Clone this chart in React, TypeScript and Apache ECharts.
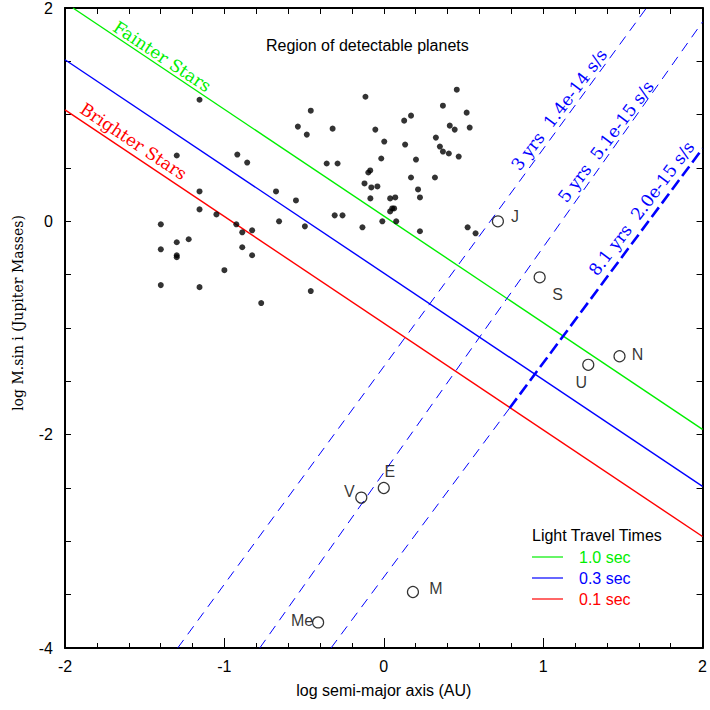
import React, { useEffect, useRef } from 'react';
import * as echarts from 'echarts';

// Known exoplanets: log semi-major axis (AU) and log M sin i (Jupiter masses)
const exoLogA = [
  -1.156, -0.115, -0.458, -0.539, -0.483, -0.321, -0.053, -1.299, -0.919, -0.857,
  -0.358, -0.29, -0.097, -0.085, -0.121, -0.078, -0.04, -0.084, -1.156, -0.676,
  -0.551, -1.156, -1.05, -0.308, -0.259, -0.925, -0.657, -0.495, -0.134, -1.399,
  -0.888, -0.826, -1.224, -1.299, -1.399, -1.299, -1.299, -0.888, -0.826, -1.0,
  -1.399, -1.156, -0.458, -0.769,
  0.458, 0.371, 0.52, 0.128, 0.171, 0.414, 0.445, 0.539, 0.003, 0.134,
  0.327, 0.352, 0.371, 0.408, 0.47, -0.016, 0.202, 0.171, 0.321, 0.215,
  0.04, 0.072, 0.227, 0.053, 0.065, 0.04, -0.009, 0.078, 0.227, 0.526, 0.576,
];
const exoLogM = [
  1.14, 1.168, 1.037, 0.888, 0.813, 0.869, 0.86, 0.617, 0.626, 0.551,
  0.542, 0.542, 0.458, 0.477, 0.355, 0.318, 0.327, 0.215, 0.28, 0.28,
  0.196, 0.112, 0.065, 0.056, 0.056, -0.028, 0.0, -0.047, -0.056, -0.028,
  -0.103, -0.084, -0.168, -0.196, -0.262, -0.318, -0.336, -0.243, -0.318, -0.458,
  -0.598, -0.617, -0.654, -0.766,
  1.234, 1.084, 1.019, 0.944, 0.991, 0.897, 0.86, 0.879, 0.748, 0.72,
  0.785, 0.701, 0.654, 0.636, 0.607, 0.589, 0.579, 0.411, 0.411, 0.299,
  0.215, 0.224, 0.224, 0.121, 0.121, 0.093, 0.0, 0.0, -0.093, -0.056, -0.112,
];

// Solar system planets
const planetNames = ['J', 'S', 'U', 'N', 'E', 'V', 'M', 'Me'];
const planetLogA = [0.716, 0.978, 1.283, 1.479, 0.0, -0.141, 0.183, -0.412];
const planetLogM = [0.0, -0.525, -1.345, -1.265, -2.5, -2.59, -3.475, -3.76];

// Light travel time lines (endpoints in data units)
const lightTimeNames = ['1.0 sec', '0.3 sec', '0.1 sec'];
const lightTimeLines: number[][][] = [
  [[-1.95, 2], [2, -1.95]],
  [[-2, 1.515], [2, -2.485]],
  [[-2, 1.045], [2, -2.955]],
];

// Timing (period derivative) lines
const timingNames = ['3 yrs  1.4e-14 s/s', '5 yrs  5.1e-15 s/s', '8.1 yrs  2.0e-15 s/s'];
const timingLines: number[][][] = [
  [[-1.293, -4], [1.648, 2]],
  [[-0.778, -4], [2, 1.87]],
  [[-0.331, -4], [0.79, -1.75]],
];
const timingThick: number[][] = [[0.79, -1.75], [2, 0.682]];

// Text anchors (data units)
const regionLabel = 'Region of detectable planets';
const regionAnchor = [-0.103, 1.645];
const starLabels = ['Fainter Stars', 'Brighter Stars'];
const starAnchors = [[-1.39, 1.545], [-1.57, 0.75]];
const timingAnchors = [[1.1, 1.047], [1.393, 0.748], [1.617, 0.121]];

const lightColors = ['#00ee00', '#0000ff', '#ff0000'];
const planetLabelOffsets: Record<string, number[]> = {
  J: [17, -5], S: [18, 17], U: [-7, 18], N: [18, -2],
  E: [6, -17], V: [-12, -6], M: [23, -4], Me: [-16, -2],
};

const SANS = 'Liberation Sans, Arial, Helvetica, sans-serif';
const SERIF = 'DejaVu Serif, serif';

export default function App() {
  const ref = useRef<HTMLDivElement>(null);
  useEffect(() => {
    if (!ref.current) return;
    const chart = echarts.init(ref.current, null, { renderer: 'svg' });
    const axisLine = { show: true, onZero: false, lineStyle: { color: '#000', width: 2 } };
    const tickStyle = { color: '#000', width: 1 };
    const option: any = {
      animation: false,
      backgroundColor: '#fff',
      grid: { left: 65, top: 6, width: 642, height: 642 },
      xAxis: [
        {
          type: 'value', min: -2, max: 2, interval: 1, position: 'bottom',
          axisLine, splitLine: { show: false },
          axisTick: { inside: true, length: 10, lineStyle: tickStyle },
          minorTick: { show: true, splitNumber: 5, length: 5, lineStyle: tickStyle },
          axisLabel: { margin: 10, fontSize: 16, color: '#000', fontFamily: SANS },
          name: 'log semi-major axis (AU)', nameLocation: 'middle', nameGap: 34,
          nameTextStyle: { fontSize: 16, color: '#000', fontFamily: SANS },
        },
        {
          type: 'value', min: -2, max: 2, interval: 1, position: 'top',
          axisLine, splitLine: { show: false },
          axisTick: { inside: true, length: 6, lineStyle: tickStyle },
          minorTick: { show: true, splitNumber: 5, length: 6, lineStyle: tickStyle },
          axisLabel: { show: false },
        },
      ],
      yAxis: [
        {
          type: 'value', min: -4, max: 2, interval: 2, position: 'left',
          axisLine, splitLine: { show: false },
          axisTick: { inside: true, length: 6, lineStyle: tickStyle },
          minorTick: { show: true, splitNumber: 4, length: 6, lineStyle: tickStyle },
          axisLabel: { margin: 12, fontSize: 16, color: '#000', fontFamily: SANS },
          name: 'log M.sin i (Jupiter Masses)', nameLocation: 'middle', nameGap: 40, nameRotate: 90,
          nameTextStyle: { fontSize: 14, color: '#000', fontFamily: SERIF, padding: [0, 0, 0, 30] },
        },
        {
          type: 'value', min: -4, max: 2, interval: 2, position: 'right',
          axisLine, splitLine: { show: false },
          axisTick: { inside: true, length: 6, lineStyle: tickStyle },
          minorTick: { show: true, splitNumber: 4, length: 6, lineStyle: tickStyle },
          axisLabel: { show: false },
        },
      ],
      series: [
        ...lightTimeLines.map((pts, i) => ({
          name: lightTimeNames[i], type: 'line', data: pts, symbol: 'none', silent: true,
          lineStyle: { color: lightColors[i], width: 1.4 }, z: 2,
        })),
        ...timingLines.map((pts, i) => ({
          name: timingNames[i], type: 'line', data: pts, symbol: 'none', silent: true,
          lineStyle: { color: '#0000ff', width: 1, type: [10, 7] }, z: 2,
        })),
        {
          name: 'thick', type: 'line', data: timingThick, symbol: 'none', silent: true,
          lineStyle: { color: '#0000ff', width: 2.6, type: [12, 5] }, z: 2,
        },
        {
          name: 'exoplanets', type: 'scatter', symbolSize: 6,
          data: exoLogA.map((a, i) => [a, exoLogM[i]]),
          itemStyle: { color: '#000' }, z: 4,
        },
        {
          name: 'planets', type: 'scatter', symbol: 'circle', symbolSize: 11,
          data: planetNames.map((n, i) => ({
            name: n, value: [planetLogA[i], planetLogM[i]],
            label: { offset: planetLabelOffsets[n] },
          })),
          itemStyle: { color: 'rgba(255,255,255,0)', borderColor: '#000', borderWidth: 1.2 },
          label: {
            show: true, position: 'inside', formatter: '{b}', color: '#000',
            fontSize: 16, fontFamily: SANS, align: 'center', verticalAlign: 'middle',
          },
          z: 5,
        },
      ],
    };
    chart.setOption(option);

    const toPx = (p: number[]) => chart.convertToPixel({ xAxisIndex: 0, yAxisIndex: 0 }, p) as number[];
    const text = (str: string, p: number[], color: string, font: string, rot = 0, align = 'center') => ({
      type: 'text', x: p[0], y: p[1], rotation: rot, silent: true, z: 10,
      style: {
        text: str, fill: color, font,
        align, verticalAlign: 'middle', textAlign: align, textVerticalAlign: 'middle',
      },
    });
    const negRot = -Math.atan(107 / 160.5);
    const posRot = (53 * Math.PI) / 180;
    const graphics: any[] = [];
    graphics.push(text(regionLabel, toPx(regionAnchor), '#000', `16px ${SANS}`));
    starLabels.forEach((s, i) => {
      graphics.push(text(s, toPx(starAnchors[i]), i === 0 ? lightColors[0] : lightColors[2], `17px ${SERIF}`, negRot));
    });
    timingNames.forEach((s, i) => {
      graphics.push(text(s, toPx(timingAnchors[i]), '#0000ff', `17px ${SERIF}`, posRot));
    });
    // legend
    const lx = 532, ly = 535;
    graphics.push(text('Light Travel Times', [lx, ly], '#000', `16px ${SANS}`, 0, 'left'));
    lightTimeNames.forEach((n, i) => {
      const yy = ly + 22 + i * 21;
      graphics.push({
        type: 'line', silent: true, z: 10,
        shape: { x1: lx, y1: yy, x2: lx + 31, y2: yy },
        style: { stroke: lightColors[i], lineWidth: 1.2 },
      });
      graphics.push(text(n, [lx + 47, yy], lightColors[i], `16px ${SANS}`, 0, 'left'));
    });
    chart.setOption({ graphic: graphics });

    return () => chart.dispose();
  }, []);
  return <div ref={ref} style={{ width: 710, height: 710, position: 'absolute', left: 0, top: 0 }} />;
}
